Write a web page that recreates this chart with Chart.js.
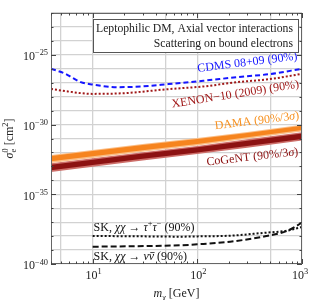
<!DOCTYPE html>
<html>
<head>
<meta charset="utf-8">
<script src="https://cdn.jsdelivr.net/npm/chart.js@4.4.0/dist/chart.umd.min.js"></script>
<style>
  html, body { margin: 0; padding: 0; background: #fff; }
  #wrap { width: 310px; height: 300px; }
</style>
</head>
<body>
<div id="wrap"><canvas id="chart" width="310" height="300"></canvas></div>
<script>
// Axis ranges / ticks
const massRange = [4, 1000];
const sigmaExpRange = [-40, -22];
const massGridLines = [5, 10, 50, 100, 500, 1000];
const massTickLabels = [10, 100, 1000];
const sigmaTickLabels = [-40, -35, -30, -25];

// CDMS 08+09 (90%) - log10 sigma
const cdmsMass = [4, 5.5, 6.5, 7.7, 10, 17, 29, 53, 114, 240, 495, 1000];
const cdmsExp = [-26.0, -26.36, -26.67, -26.96, -27.13, -27.32, -27.27, -27.10, -26.86, -26.60, -26.38, -26.0];

// XENON-10 (2009) (90%)
const xenonMass = [4, 5.8, 10, 20, 53, 114, 240, 495, 1000];
const xenonExp = [-27.44, -27.63, -27.80, -27.75, -27.46, -27.27, -26.96, -26.74, -26.36];

// DAMA / CoGeNT bands
const bandMass = [4, 10, 30, 100, 300, 1000];
const damaOuterTop = [-32.18, -31.82, -31.39, -30.96, -30.53, -30.02];
const damaOuterBot = [-32.76, -32.40, -31.95, -31.50, -31.02, -30.50];
const damaInnerTop = [-32.25, -31.89, -31.46, -31.03, -30.60, -30.09];
const damaInnerBot = [-32.64, -32.28, -31.84, -31.39, -30.91, -30.39];
const cogentOuterTop = [-32.78, -32.42, -31.98, -31.53, -31.06, -30.55];
const cogentOuterBot = [-33.40, -33.02, -32.58, -32.12, -31.66, -31.15];
const cogentInnerTop = [-32.88, -32.52, -32.08, -31.63, -31.16, -30.65];
const cogentInnerBot = [-33.28, -32.90, -32.46, -32.00, -31.54, -31.03];

// Super-K limits
const skMass = [10, 33, 69, 100, 206, 425, 719, 1000];
const skTauExp = [-37.99, -38.02, -38.04, -38.02, -37.97, -37.77, -37.61, -37.34];
const skNuExp = [-38.76, -38.71, -38.66, -38.59, -38.40, -38.04, -37.63, -37.04];

const SERIF = '"Liberation Serif", "DejaVu Serif", serif';

function pts(ms, es) {
    return ms.map((m, i) => ({ x: m, y: Math.pow(10, es[i]) }));
}

// order: higher = drawn further back
function band(top, bot, color, order) {
    return [
        { data: pts(bandMass, top), borderWidth: 0, pointRadius: 0, fill: false, order },
        { data: pts(bandMass, bot), borderWidth: 0, pointRadius: 0, fill: '-1', backgroundColor: color, order }
    ];
}

function line(ms, es, color, dash, width) {
    return {
        data: pts(ms, es), borderColor: color, borderWidth: width, borderDash: dash,
        pointRadius: 0, fill: false, cubicInterpolationMode: 'monotone', order: 0
    };
}

// small rich-text helper: parts = [text, kind]
function rich(ctx, parts, x, y, size, align, color) {
    const font = k => {
        const s = (k === 'sup' || k === 'sub' || k === 'supover') ? size * 0.7 : size;
        const it = (k === 'i' || k === 'ibar') ? 'italic ' : '';
        return it + s + 'px ' + SERIF;
    };
    let widths = [];
    let total = 0;
    parts.forEach(([t, k], i) => {
        ctx.font = font(k);
        let w = ctx.measureText(t).width;
        widths.push(w);
        if (k === 'supover') w = Math.max(0, w - widths[i - 1]);
        total += w;
    });
    let cx = align === 'center' ? x - total / 2 : align === 'right' ? x - total : x;
    const base = y + size * 0.33;
    ctx.fillStyle = color;
    ctx.strokeStyle = color;
    ctx.textAlign = 'left';
    ctx.textBaseline = 'alphabetic';
    parts.forEach(([t, k], i) => {
        ctx.font = font(k);
        let dy = 0;
        if (k === 'sup' || k === 'supover') dy = -size * 0.4;
        if (k === 'sub') dy = size * 0.25;
        let px = cx;
        if (k === 'supover') px = cx - widths[i - 1];
        ctx.fillText(t, px, base + dy);
        const w = widths[i];
        if (k === 'ibar') {
            ctx.lineWidth = 0.8;
            ctx.beginPath();
            ctx.moveTo(px + 1.5, base - size * 0.62);
            ctx.lineTo(px + w + 0.5, base - size * 0.62);
            ctx.stroke();
        }
        cx = k === 'supover' ? Math.max(cx, px + w) : cx + w;
    });
    return total;
}

const decor = {
    id: 'decor',
    afterDatasetsDraw(chart) {
        const { ctx, chartArea: a, scales: { x, y } } = chart;
        const Y = e => y.getPixelForValue(Math.pow(10, e));
        ctx.save();

        // curve labels
        const tag = (parts, m, e, deg, color, size) => {
            ctx.save();
            ctx.translate(x.getPixelForValue(m), Y(e));
            ctx.rotate(deg * Math.PI / 180);
            rich(ctx, parts, 0, 0, size, 'center', color);
            ctx.restore();
        };
        tag([['CDMS 08+09 (90%)', 'n']], 300, -25.5, -7, '#1515ff', 12);
        tag([['XENON\u221210 (2009) (90%)', 'n']], 230, -27.78, -9, '#a01818', 12);
        tag([['DAMA (90%/3', 'n'], ['\u03c3', 'i'], [')', 'n']], 370, -29.68, -7, '#f7901e', 12);
        tag([['CoGeNT (90%/3', 'n'], ['\u03c3', 'i'], [')', 'n']], 335, -32.28, -6.5, '#8c1010', 12);

        ctx.save();
        ctx.translate(x.getPixelForValue(10.2), Y(-37.33));
        rich(ctx, [['SK, ', 'n'], ['\u03c7\u03c7', 'i'], [' \u2192 ', 'n'], ['\u03c4', 'i'], ['+', 'sup'],
            ['\u03c4', 'i'], ['\u2212', 'sup'], [' (90%)', 'n']], 0, 0, 12, 'left', '#111');
        ctx.restore();
        ctx.save();
        ctx.translate(x.getPixelForValue(10.2), Y(-39.43));
        rich(ctx, [['SK, ', 'n'], ['\u03c7\u03c7', 'i'], [' \u2192 ', 'n'], ['\u03bd', 'i'], ['\u03bd', 'ibar'],
            [' (90%)', 'n']], 0, 0, 12, 'left', '#111');
        ctx.restore();

        // frame
        ctx.strokeStyle = '#666';
        ctx.lineWidth = 1;
        ctx.strokeRect(a.left + 0.5, a.top + 0.5, a.right - a.left - 1, a.bottom - a.top - 1);

        // inward ticks
        ctx.strokeStyle = '#444';
        ctx.beginPath();
        for (let d = 0; d <= 3; d++) {
            for (let k = 1; k <= 9; k++) {
                const m = k * Math.pow(10, d);
                if (m < massRange[0] || m > massRange[1]) continue;
                const px = Math.round(x.getPixelForValue(m)) + 0.5;
                const len = k === 1 ? 5 : 2.5;
                ctx.moveTo(px, a.bottom); ctx.lineTo(px, a.bottom - len);
                ctx.moveTo(px, a.top); ctx.lineTo(px, a.top + len);
            }
        }
        for (let e = sigmaExpRange[0]; e <= sigmaExpRange[1]; e++) {
            const py = Math.round(Y(e)) + 0.5;
            const len = e % 5 === 0 ? 5 : 2.5;
            ctx.moveTo(a.left, py); ctx.lineTo(a.left + len, py);
            ctx.moveTo(a.right, py); ctx.lineTo(a.right - len, py);
        }
        ctx.stroke();

        // tick labels
        sigmaTickLabels.forEach(e => {
            rich(ctx, [['10', 'n'], [String(e).replace('-', '\u2212'), 'sup']], a.left - 3, Y(e) + 1.5, 12, 'right', '#222');
        });
        massTickLabels.forEach(m => {
            const parts = [['10', 'n'], [String(Math.round(Math.log10(m))), 'sup']];
            let cx = x.getPixelForValue(m) + 1;
            cx = Math.min(cx, chart.width - 10);
            rich(ctx, parts, cx, a.bottom + 11, 12, 'center', '#222');
        });

        // axis titles
        rich(ctx, [['m', 'i'], ['\u03c7', 'sub'], [' [GeV]', 'n']], (a.left + a.right) / 2, 293, 12, 'center', '#222');
        ctx.save();
        ctx.translate(9, (a.top + a.bottom) / 2);
        ctx.rotate(-Math.PI / 2);
        rich(ctx, [['\u03c3', 'i'], ['e', 'sub'], ['0', 'supover'], [' [cm', 'n'], ['2', 'sup'], [']', 'n']], 0, 0, 12, 'center', '#222');
        ctx.restore();

        // legend / title box
        const bx = a.left + 42, by = a.top + 6, bw = a.right - 4 - bx, bh = 33;
        ctx.fillStyle = '#fff';
        ctx.fillRect(bx, by, bw, bh);
        ctx.strokeStyle = '#555';
        ctx.strokeRect(bx + 0.5, by + 0.5, bw, bh);
        rich(ctx, [['Leptophilic DM, Axial vector interactions', 'n']], bx + bw - 5, by + 9, 11.7, 'right', '#222');
        rich(ctx, [['Scattering on bound electrons', 'n']], bx + bw - 5, by + 24, 11.7, 'right', '#222');

        ctx.restore();
    }
};

const datasets = [
    line(cdmsMass, cdmsExp, '#1515ff', [5, 3], 2),
    line(xenonMass, xenonExp, '#a01818', [2, 2], 2),
    line(skMass, skTauExp, '#111', [2, 2], 2),
    line(skMass, skNuExp, '#111', [6, 3], 2),
    ...band(damaInnerTop, damaInnerBot, 'rgb(246, 132, 30)', 1),
    ...band(damaOuterTop, damaOuterBot, 'rgb(251, 190, 135)', 2),
    ...band(cogentInnerTop, cogentInnerBot, 'rgb(140, 18, 18)', 1),
    ...band(cogentOuterTop, cogentOuterBot, 'rgb(205, 110, 105)', 2)
];

new Chart(document.getElementById('chart'), {
    type: 'line',
    data: { datasets },
    options: {
        responsive: false,
        animation: false,
        events: [],
        layout: { padding: { top: 13, right: 8, left: 0, bottom: 0 } },
        plugins: { legend: { display: false }, tooltip: { enabled: false } },
        scales: {
            x: {
                type: 'logarithmic',
                min: massRange[0],
                max: massRange[1],
                afterBuildTicks: s => { s.ticks = massGridLines.map(v => ({ value: v })); },
                afterFit: s => { s.height = 36; },
                ticks: { display: false },
                grid: { color: '#d2d2d2', lineWidth: 1.3, drawTicks: false },
                border: { display: false }
            },
            y: {
                type: 'logarithmic',
                min: Math.pow(10, sigmaExpRange[0]),
                max: Math.pow(10, sigmaExpRange[1]),
                afterBuildTicks: s => {
                    const t = [];
                    for (let e = sigmaExpRange[0]; e <= sigmaExpRange[1]; e++) t.push({ value: Math.pow(10, e) });
                    s.ticks = t;
                },
                afterFit: s => { s.width = 51; },
                ticks: { display: false },
                grid: { color: '#d2d2d2', lineWidth: 1.3, drawTicks: false },
                border: { display: false }
            }
        }
    },
    plugins: [decor]
});
</script>
</body>
</html>
